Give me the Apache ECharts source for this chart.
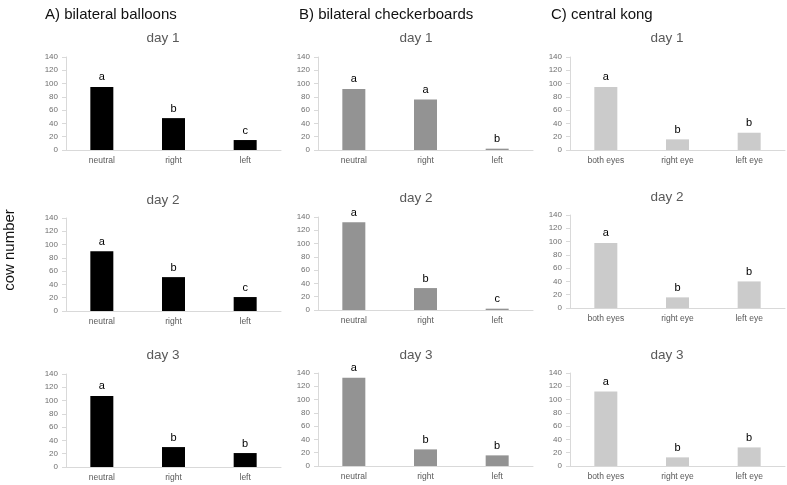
<!DOCTYPE html>
<html>
<head>
<meta charset="utf-8">
<script src="https://cdn.jsdelivr.net/npm/echarts@6/dist/echarts.min.js"></script>
<style>
html,body{margin:0;padding:0;background:#fff;}
#chart{width:787px;height:485px;}
</style>
</head>
<body>
<div id="chart"></div>
<script>
// ---- data ----
const panelTitles = ['A) bilateral balloons', 'B) bilateral checkerboards', 'C) central kong'];
const dayTitles = ['day 1', 'day 2', 'day 3'];
const yAxisTitle = 'cow number';

const categoriesBalloons = ['neutral', 'right', 'left'];
const categoriesCheckerboards = ['neutral', 'right', 'left'];
const categoriesKong = ['both eyes', 'right eye', 'left eye'];

const yMin = 0;
const yMax = 140;
const yStep = 20;

const balloonsDay1 = [95, 48, 15];
const balloonsDay2 = [90, 51, 21];
const balloonsDay3 = [107, 30, 21];

const checkerDay1 = [92, 76, 2];
const checkerDay2 = [132, 33, 2];
const checkerDay3 = [133, 25, 16];

const kongDay1 = [95, 16, 26];
const kongDay2 = [98, 16, 40];
const kongDay3 = [112, 13, 28];

const balloonsLetters1 = ['a', 'b', 'c'];
const balloonsLetters2 = ['a', 'b', 'c'];
const balloonsLetters3 = ['a', 'b', 'b'];
const checkerLetters1 = ['a', 'a', 'b'];
const checkerLetters2 = ['a', 'b', 'c'];
const checkerLetters3 = ['a', 'b', 'b'];
const kongLetters1 = ['a', 'b', 'b'];
const kongLetters2 = ['a', 'b', 'b'];
const kongLetters3 = ['a', 'b', 'b'];

// ---- layout / style (not data) ----
const columns = [
  { cats: categoriesBalloons, values: [balloonsDay1, balloonsDay2, balloonsDay3],
    letters: [balloonsLetters1, balloonsLetters2, balloonsLetters3], color: '#000000',
    left: 66, titleX: 163, headerX: 45, tops: [57, 218, 374], titleY: [38, 200, 355] },
  { cats: categoriesCheckerboards, values: [checkerDay1, checkerDay2, checkerDay3],
    letters: [checkerLetters1, checkerLetters2, checkerLetters3], color: '#939393',
    left: 318, titleX: 416, headerX: 299, tops: [57, 217, 373], titleY: [38, 198, 355] },
  { cats: categoriesKong, values: [kongDay1, kongDay2, kongDay3],
    letters: [kongLetters1, kongLetters2, kongLetters3], color: '#cbcbcb',
    left: 570, titleX: 667, headerX: 551, tops: [57, 215, 373], titleY: [38, 197, 355] }
];
const plotW = 215, plotH = 93;
const FONT = '"Liberation Sans", Arial, sans-serif';

const grids = [], xAxes = [], yAxes = [], series = [], graphics = [];
let idx = 0;
columns.forEach((col, c) => {
  graphics.push({
    type: 'text', x: col.headerX, y: 15,
    style: { text: panelTitles[c], fill: '#111', font: '15px ' + FONT,
             align: 'left', verticalAlign: 'middle', textAlign: 'left', textVerticalAlign: 'middle' }
  });
  for (let r = 0; r < 3; r++) {
    grids.push({ left: col.left, top: col.tops[r], width: plotW, height: plotH, containLabel: false });
    xAxes.push({
      type: 'category', gridIndex: idx, data: col.cats,
      axisLine: { show: true, lineStyle: { color: '#d9d9d9', width: 1 } },
      axisTick: { show: false },
      axisLabel: { color: '#595959', fontSize: 8.5, fontFamily: FONT, margin: 6, interval: 0 },
      splitLine: { show: false }
    });
    yAxes.push({
      type: 'value', gridIndex: idx, min: yMin, max: yMax, interval: yStep,
      axisLine: { show: true, lineStyle: { color: '#d9d9d9', width: 1 } },
      axisTick: { show: true, length: 4, lineStyle: { color: '#d9d9d9' } },
      axisLabel: { color: '#6f6f6f', fontSize: 8, fontFamily: FONT, margin: 8 },
      splitLine: { show: false }
    });
    const letters = col.letters[r];
    series.push({
      type: 'bar', xAxisIndex: idx, yAxisIndex: idx, barWidth: 23,
      data: col.values[r],
      itemStyle: { color: col.color },
      label: {
        show: true, position: 'top', distance: 4, color: '#000',
        fontSize: 11, fontFamily: FONT,
        formatter: p => letters[p.dataIndex]
      },
      silent: true, animation: false
    });
    graphics.push({
      type: 'text', x: col.titleX, y: col.titleY[r],
      style: { text: dayTitles[r], fill: '#595959', font: '13.5px ' + FONT,
               align: 'center', verticalAlign: 'middle', textAlign: 'center', textVerticalAlign: 'middle' }
    });
    idx++;
  }
});
graphics.push({
  type: 'text', x: 10, y: 250, rotation: Math.PI / 2,
  style: { text: yAxisTitle, fill: '#111', font: '15px ' + FONT,
           align: 'center', verticalAlign: 'middle', textAlign: 'center', textVerticalAlign: 'middle' }
});

const chart = echarts.init(document.getElementById('chart'), null, { renderer: 'canvas' });
chart.setOption({
  animation: false,
  backgroundColor: '#ffffff',
  grid: grids, xAxis: xAxes, yAxis: yAxes, series: series,
  graphic: graphics
});
</script>
</body>
</html>
